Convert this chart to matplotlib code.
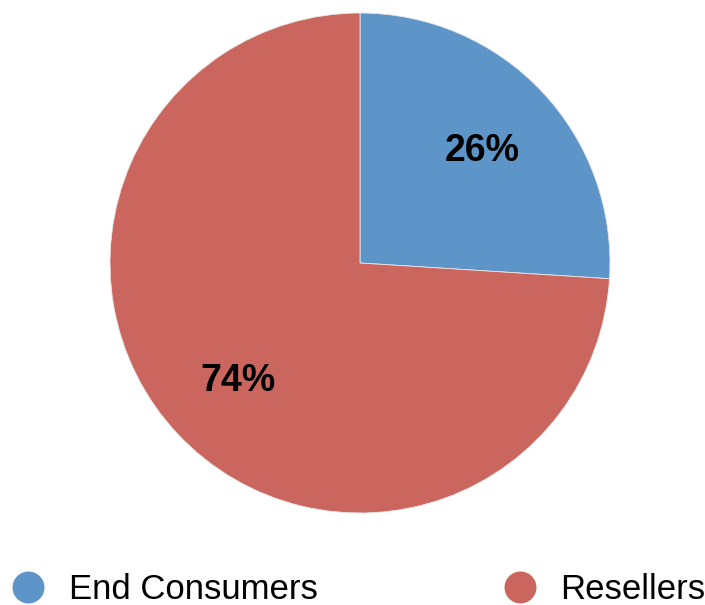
import matplotlib
matplotlib.use("Agg")
import matplotlib.pyplot as plt
from matplotlib.lines import Line2D

categories = ["End Consumers", "Resellers"]
shares = [26, 74]
colors = ["#5E95C8", "#CB665E"]

plt.rcParams["font.family"] = ["Liberation Sans", "DejaVu Sans"]

W, H = 705, 605
fig = plt.figure(figsize=(W / 100, H / 100), dpi=100)

cx, cy, r = 360, 605 - 263, 250
ax = fig.add_axes([(cx - r) / W, (cy - r) / H, 2 * r / W, 2 * r / H])

wedges, texts = ax.pie(
    shares,
    colors=colors,
    startangle=90,
    counterclock=False,
    radius=1,
    labels=[f"{v}%" for v in shares],
    labeldistance=0.67,
    wedgeprops=dict(edgecolor="#e8e8e8", linewidth=0.6),
    textprops=dict(fontsize=27, fontweight="bold", color="black"),
)
for t in texts:
    t.set_horizontalalignment("center")
    t.set_verticalalignment("center")
    x, y = t.get_position()
    t.set_position((x, y - 0.012))
ax.set_xlim(-1, 1)
ax.set_ylim(-1, 1)
ax.set_aspect("equal")
ax.axis("off")

handles = [
    Line2D([], [], marker="o", linestyle="none", markersize=22,
           markerfacecolor=c, markeredgecolor=c)
    for c in colors
]
fig.legend(
    handles, categories,
    loc="lower left",
    bbox_to_anchor=(12.4 / W, -1 / H),
    ncol=2,
    frameon=False,
    fontsize=25,
    handlelength=0.9,
    handletextpad=0.72,
    columnspacing=5.37,
    borderpad=0,
    borderaxespad=0,
)

fig.savefig("out.png", dpi=100, facecolor="white")
